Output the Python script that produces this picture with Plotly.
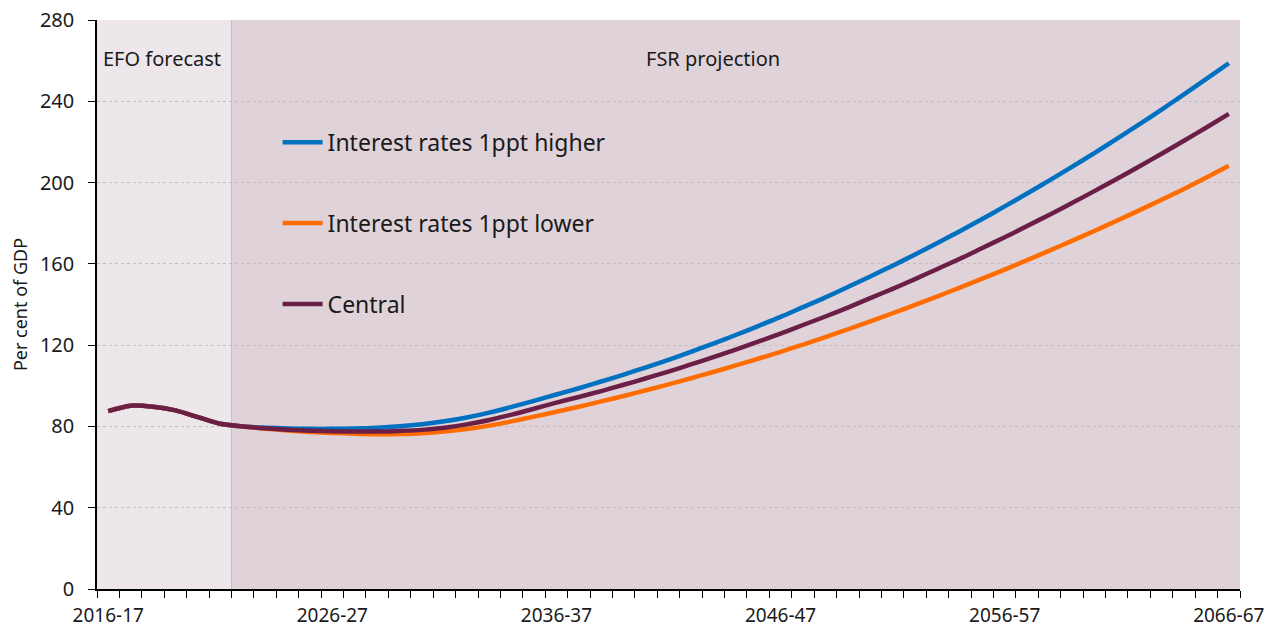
import plotly.graph_objects as go

years = [f"{y}-{str(y + 1)[-2:]}" for y in range(2016, 2067)]

central = [87.5, 90.2, 89.7, 87.9, 84.6, 81.3, 80.0, 79.1, 78.4, 77.9,
           77.6, 77.5, 77.5, 77.8, 78.3, 79.4, 81.0, 83.2, 85.8, 88.7,
           91.7, 94.5, 97.4, 100.5, 103.7, 107.0, 110.5, 114.1, 117.8, 121.7,
           125.7, 129.9, 134.1, 138.5, 143.1, 147.7, 152.5, 157.5, 162.5, 167.8,
           173.1, 178.6, 184.2, 189.9, 195.8, 201.8, 207.9, 214.2, 220.6, 227.1,
           233.8]

higher = [87.5, 90.2, 89.7, 87.9, 84.6, 81.3, 80.0, 79.4, 79.0, 78.8,
          78.8, 79.0, 79.4, 80.1, 81.1, 82.5, 84.4, 86.8, 89.6, 92.6,
          95.7, 98.8, 102.1, 105.5, 109.1, 112.8, 116.7, 120.8, 125.0, 129.4,
          133.9, 138.7, 143.5, 148.6, 153.8, 159.1, 164.6, 170.3, 176.1, 182.1,
          188.3, 194.6, 201.1, 207.7, 214.5, 221.5, 228.6, 235.9, 243.4, 251.0,
          258.7]

lower = [87.5, 90.2, 89.7, 87.9, 84.6, 81.3, 80.0, 78.9, 78.0, 77.3,
         76.8, 76.4, 76.2, 76.3, 76.7, 77.5, 78.7, 80.4, 82.5, 84.8,
         87.2, 89.7, 92.3, 95.0, 97.8, 100.7, 103.7, 106.8, 110.0, 113.3,
         116.7, 120.3, 124.0, 127.8, 131.7, 135.7, 139.8, 144.0, 148.3, 152.7,
         157.2, 161.8, 166.5, 171.3, 176.2, 181.2, 186.3, 191.5, 196.8, 202.5,
         208.3]

series_names = ["Interest rates 1ppt higher", "Interest rates 1ppt lower", "Central"]
series_colors = ["#0070C0", "#FF6D00", "#6B1F47"]
tick_labels = ["2016-17", "2026-27", "2036-37", "2046-47", "2056-57", "2066-67"]
y_ticks = [0, 40, 80, 120, 160, 200, 240, 280]
efo_years = 6  # number of EFO forecast years

idx = list(range(len(years)))
FONT = "Noto Sans"

fig = go.Figure()
for name, vals, col in zip(series_names, [higher, lower, central], series_colors):
    fig.add_trace(go.Scatter(
        x=idx, y=vals, name=name, mode="lines",
        line=dict(color=col, width=4.5, shape="spline", smoothing=0.8),
        customdata=years, hovertemplate="%{customdata}: %{y:.1f}<extra>" + name + "</extra>",
        legendgroup=name,
    ))

split = efo_years - 0.5
fig.add_shape(type="rect", xref="x", yref="y", x0=-0.5, x1=split, y0=0, y1=280,
              fillcolor="#EDE6EB", line_width=0, layer="below")
fig.add_shape(type="rect", xref="x", yref="y", x0=split, x1=len(years) - 0.5, y0=0, y1=280,
              fillcolor="#DFD2D9", line_width=0, layer="below")
fig.add_shape(type="line", xref="x", yref="y", x0=split, x1=split, y0=0, y1=280,
              line=dict(color="#CBBBC5", width=1), layer="below")

fig.add_annotation(x=-0.3, y=261, xref="x", yref="y", text="EFO forecast", showarrow=False,
                   xanchor="left", yanchor="middle", font=dict(family=FONT, size=20, color="#1a1a1a"))
fig.add_annotation(x=27, y=261, xref="x", yref="y", text="FSR projection", showarrow=False,
                   xanchor="center", yanchor="middle", font=dict(family=FONT, size=20, color="#1a1a1a"))

fig.update_layout(
    width=1278, height=628,
    margin=dict(l=97, r=38, t=20, b=39),
    paper_bgcolor="white", plot_bgcolor="rgba(0,0,0,0)",
    font=dict(family=FONT, color="#1a1a1a"),
    showlegend=True,
    legend=dict(x=0.158, y=0.823, xanchor="left", yanchor="top",
                bgcolor="rgba(0,0,0,0)", font=dict(family=FONT, size=23, color="#1a1a1a"),
                traceorder="grouped", tracegroupgap=48, itemwidth=40),
    xaxis=dict(range=[-0.5, len(years) - 0.5], tickvals=[0, 10, 20, 30, 40, 50],
               ticktext=tick_labels, ticks="", showgrid=False, zeroline=False,
               showline=True, linecolor="black", linewidth=1.5, automargin=False,
               tickfont=dict(family=FONT, size=19, color="#1a1a1a"), ticklabelstandoff=8,
               ticklabeloverflow="allow",
               minor=dict(tick0=-0.5, dtick=1, ticks="outside", ticklen=7,
                          tickcolor="black", tickwidth=1, showgrid=False)),
    yaxis=dict(range=[0, 280], tickvals=y_ticks, ticks="outside", ticklen=7,
               tickcolor="black", showline=True, linecolor="black", linewidth=1.5,
               showgrid=True, gridcolor="#C9B9C3", griddash="dot", gridwidth=1,
               zeroline=False, tickfont=dict(family=FONT, size=20, color="#1a1a1a"),
               ticklabelstandoff=10, automargin=False, ticklabeloverflow="allow",
               title=dict(text="Per cent of GDP", font=dict(family=FONT, size=18, color="#1a1a1a"),
                          standoff=8)),
)

fig.write_html("out.html", config={"displayModeBar": False},
               post_script="document.body.style.margin='0';document.body.style.overflow='hidden';")
